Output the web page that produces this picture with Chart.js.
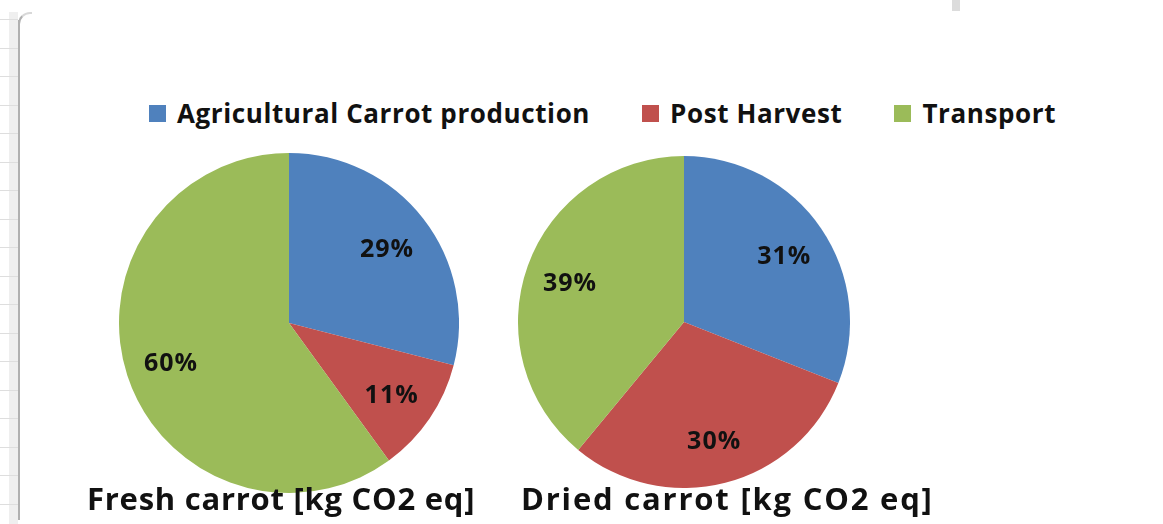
<!DOCTYPE html>
<html>
<head>
<meta charset="utf-8">
<script src="https://cdn.jsdelivr.net/npm/chart.js@4"></script>
<style>
  html, body { margin: 0; padding: 0; background: #fff; }
  body { width: 1163px; height: 524px; position: relative; overflow: hidden; font-family: "Open Sans", sans-serif; }
  .strip { position: absolute; left: 9px; top: 12px; width: 9px; height: 512px; background: #efefef; }
  .edge { position: absolute; left: 18px; top: 20px; width: 2px; height: 500px; background: #b0b0b0; z-index: 2; }
  .corner { position: absolute; left: 18px; top: 12px; width: 14px; height: 14px; border-left: 2px solid #b0b0b0; border-top: 2px solid #d8d8d8; border-top-left-radius: 12px; box-sizing: border-box; }
  .sheet-line { position: absolute; left: 0; width: 18px; height: 1px; background: #dedede; }
  .topbar { position: absolute; left: 952px; top: 0; width: 8px; height: 11px; background: #dcdcdc; }
  .legend { position: absolute; left: 149px; top: 95px; display: flex; align-items: center; gap: 52px; }
  .legend-item { display: flex; align-items: center; gap: 11px; font-weight: 700; font-size: 26px; letter-spacing: 0.6px; color: #111; }
  .legend-item .box { width: 17px; height: 17px; }
  .title { position: absolute; font-weight: 700; font-size: 31px; color: #111; white-space: nowrap; line-height: 30px; }
  .pie { position: absolute; }
</style>
</head>
<body>
<div class="strip"></div>
<div id="lines"></div>
<div class="topbar"></div>
<div class="edge"></div>
<div class="corner"></div>

<div class="legend" id="legend"></div>

<div class="pie" style="left:119px;top:153px;width:340px;height:340px"><canvas id="freshChart"></canvas></div>
<div class="pie" style="left:518px;top:156px;width:332px;height:332px"><canvas id="driedChart"></canvas></div>

<div class="title" style="left:87px;top:483px;letter-spacing:0.75px" id="freshTitle"></div>
<div class="title" style="left:521px;top:483px;letter-spacing:1.8px" id="driedTitle"></div>

<script>
// Data
const categories = ['Agricultural Carrot production', 'Post Harvest', 'Transport'];
const freshValues = [29, 11, 60];
const driedValues = [31, 30, 39];
const chartTitles = ['Fresh carrot [kg CO2 eq]', 'Dried carrot [kg CO2 eq]'];
const sliceColors = ['#4F81BD', '#C0504D', '#9BBB59'];

// Spreadsheet grid lines peeking out on the left
const linesEl = document.getElementById('lines');
for (let y = 19; y < 524; y += 28.5) {
    const l = document.createElement('div');
    l.className = 'sheet-line';
    l.style.top = Math.round(y) + 'px';
    linesEl.appendChild(l);
}

// Legend
const legendEl = document.getElementById('legend');
categories.forEach((cat, i) => {
    const item = document.createElement('div');
    item.className = 'legend-item';
    item.innerHTML = '<span class="box" style="background:' + sliceColors[i] + '"></span><span>' + cat + '</span>';
    legendEl.appendChild(item);
});

document.getElementById('freshTitle').textContent = chartTitles[0];
document.getElementById('driedTitle').textContent = chartTitles[1];

// Percent labels inside slices
const percentLabels = {
    id: 'percentLabels',
    afterDatasetsDraw(chart) {
        const ctx = chart.ctx;
        const meta = chart.getDatasetMeta(0);
        const data = chart.data.datasets[0].data;
        ctx.save();
        ctx.font = 'bold 25px "Open Sans", sans-serif';
        ctx.letterSpacing = '1px';
        ctx.fillStyle = '#111';
        ctx.textAlign = 'center';
        ctx.textBaseline = 'middle';
        meta.data.forEach((arc, i) => {
            const mid = (arc.startAngle + arc.endAngle) / 2;
            const r = arc.outerRadius * 0.73;
            ctx.fillText(data[i] + '%', arc.x + Math.cos(mid) * r, arc.y + Math.sin(mid) * r + 3);
        });
        ctx.restore();
    }
};

function makePie(id, values) {
    return new Chart(document.getElementById(id), {
        type: 'pie',
        data: {
            labels: categories,
            datasets: [{
                data: values,
                backgroundColor: sliceColors,
                borderWidth: 0
            }]
        },
        options: {
            responsive: true,
            maintainAspectRatio: false,
            animation: false,
            layout: { padding: 0 },
            plugins: {
                legend: { display: false },
                tooltip: { enabled: false }
            }
        },
        plugins: [percentLabels]
    });
}

const freshChart = makePie('freshChart', freshValues);
const driedChart = makePie('driedChart', driedValues);
</script>
</body>
</html>
